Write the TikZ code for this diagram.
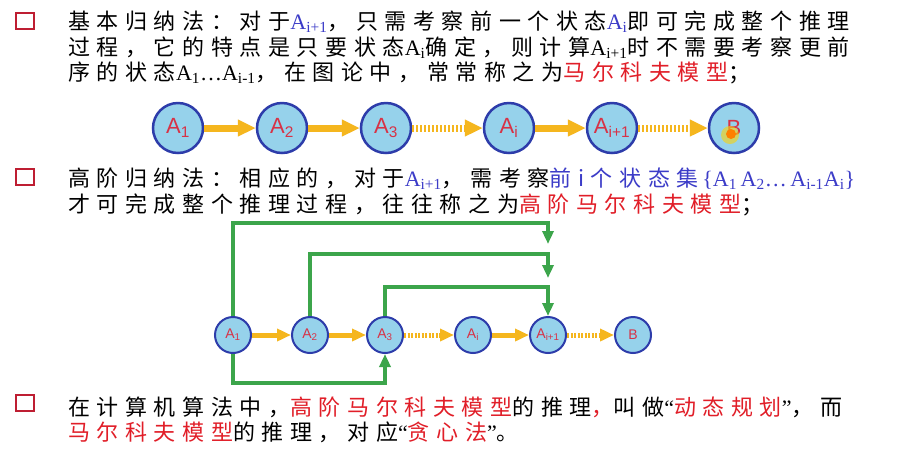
\documentclass[tikz,border=0pt]{standalone}
\usepackage{fontspec}
\setmainfont{Liberation Serif}
\setsansfont{Liberation Sans}
\newfontfamily\cjk{Noto Sans CJK SC}[LetterSpace=30]
\usetikzlibrary{arrows.meta,positioning}

\definecolor{circfill}{RGB}{150,210,235}
\definecolor{circline}{RGB}{45,60,170}
\definecolor{arrowyellow}{RGB}{245,182,30}
\definecolor{routegreen}{RGB}{60,165,75}
\definecolor{labelred}{RGB}{215,50,70}
\definecolor{textred}{RGB}{225,30,40}
\definecolor{textblue}{RGB}{60,60,200}
\definecolor{bulletred}{RGB}{190,30,50}

\newcommand{\hz}[1]{{\cjk #1}}
\newcommand{\Asub}[1]{A\textsubscript{#1}}
\newcommand{\rd}[1]{\textcolor{textred}{\hz{#1}}}
\newcommand{\bl}[1]{\textcolor{textblue}{#1}}

\tikzset{
  txtline/.style={anchor=base west, inner sep=0pt, font=\fontsize{22}{26}\selectfont},
  bulletbox/.style={draw=bulletred, line width=2pt, minimum width=18pt, minimum height=16pt, inner sep=0pt},
  bigstate/.style={circle, draw=circline, fill=circfill, line width=2.5pt, minimum size=50pt, inner sep=0pt,
    text=labelred, font=\sffamily\fontsize{22}{22}\selectfont},
  smallstate/.style={circle, draw=circline, fill=circfill, line width=2pt, minimum size=36pt, inner sep=0pt,
    text=labelred, font=\sffamily\fontsize{14}{14}\selectfont},
  fatarr/.style={draw=arrowyellow, line width=7pt, -{Triangle[length=18pt,width=16pt]}},
  thinarr/.style={draw=arrowyellow, line width=5pt, -{Triangle[length=14pt,width=12pt]}},
  dotted fat/.style={fatarr, dash pattern=on 2pt off 2pt},
  dotted thin/.style={thinarr, dash pattern=on 2pt off 1.5pt},
  route/.style={draw=routegreen, line width=4pt, -{Triangle[length=13pt,width=11pt]}}
}

\begin{document}
\begin{tikzpicture}[x=1pt, y=-1pt]
  \useasboundingbox[fill=white] (0,0) rectangle (907,467);

  % Paragraph 1
  \node[bulletbox] (bu1) at (25,21) {};
  \node[txtline] (p1a) at (68,29) {\hz{基本归纳法：对于}\bl{\Asub{i+1}}\hz{，只需考察前一个状态}\bl{\Asub{i}}\hz{即可完成整个推理}};
  \node[txtline] (p1b) at (68,55) {\hz{过程，它的特点是只要状态}\Asub{i}\hz{确定，则计算}\Asub{i+1}\hz{时不需要考察更前}};
  \node[txtline] (p1c) at (68,80) {\hz{序的状态}\Asub{1}\ldots\Asub{i-1}\hz{，在图论中，常常称之为}\rd{马尔科夫模型}\hz{；}};

  % Chain 1
  \node[bigstate] (a1) at (178,128) {\Asub{1}};
  \node[bigstate] (a2) at (282,128) {\Asub{2}};
  \node[bigstate] (a3) at (386,128) {\Asub{3}};
  \node[bigstate] (ai) at (509,128) {\Asub{i}};
  \node[bigstate] (ai1) at (612,128) {\Asub{i+1}};
  \node[bigstate] (ab) at (734,128) {B};
  \fill[yellow!70!orange, opacity=0.6] (730,135) circle (9pt);
  \fill[orange] (731,134) circle (5pt);

  \draw[fatarr] (a1) -- (a2);
  \draw[fatarr] (a2) -- (a3);
  \draw[dotted fat] (a3) -- (ai);
  \draw[fatarr] (ai) -- (ai1);
  \draw[dotted fat] (ai1) -- (ab);

  % Paragraph 2
  \node[bulletbox] (bu2) at (25,177) {};
  \node[txtline] (p2a) at (68,186) {\hz{高阶归纳法：相应的，对于}\bl{\Asub{i+1}}\hz{，需考察}\bl{\hz{前i个状态集}\,\{\Asub{1}\,\Asub{2}\ldots\,\Asub{i-1}\Asub{i}\}}};
  \node[txtline] (p2b) at (68,212) {\hz{才可完成整个推理过程，往往称之为}\rd{高阶马尔科夫模型}\hz{；}};

  % Chain 2
  \node[smallstate] (b1) at (233,335) {\Asub{1}};
  \node[smallstate] (b2) at (310,335) {\Asub{2}};
  \node[smallstate] (b3) at (385,335) {\Asub{3}};
  \node[smallstate] (bi) at (473,335) {\Asub{i}};
  \node[smallstate] (bi1) at (548,335) {\Asub{i+1}};
  \node[smallstate] (bb) at (633,335) {B};

  \draw[thinarr] (b1) -- (b2);
  \draw[thinarr] (b2) -- (b3);
  \draw[dotted thin] (b3) -- (bi);
  \draw[thinarr] (bi) -- (bi1);
  \draw[dotted thin] (bi1) -- (bb);

  % Higher-order routes
  \coordinate (t1) at (548,223);
  \coordinate (h1) at (548,244);
  \coordinate (t2) at (548,254);
  \coordinate (h2) at (548,278);
  \coordinate (t3) at (548,287);
  \coordinate (t4) at (300,383);
  \draw[route] (b1.north) |- (t1) -- (h1);
  \draw[route] (b2.north) |- (t2) -- (h2);
  \draw[route] (b3.north) |- (t3) -- (bi1.north);
  \draw[route] (b1.south) |- (t4) -| (b3.south);

  % Paragraph 3
  \node[bulletbox] (bu3) at (25,403) {};
  \node[txtline] (p3a) at (68,415) {\hz{在计算机算法中，}\rd{高阶马尔科夫模型}\hz{的推理}\rd{，}\hz{叫做}“\rd{动态规划}”\hz{，而}};
  \node[txtline] (p3b) at (68,440) {\rd{马尔科夫模型}\hz{的推理，对应}“\rd{贪心法}”\hz{。}};
\end{tikzpicture}
\end{document}
